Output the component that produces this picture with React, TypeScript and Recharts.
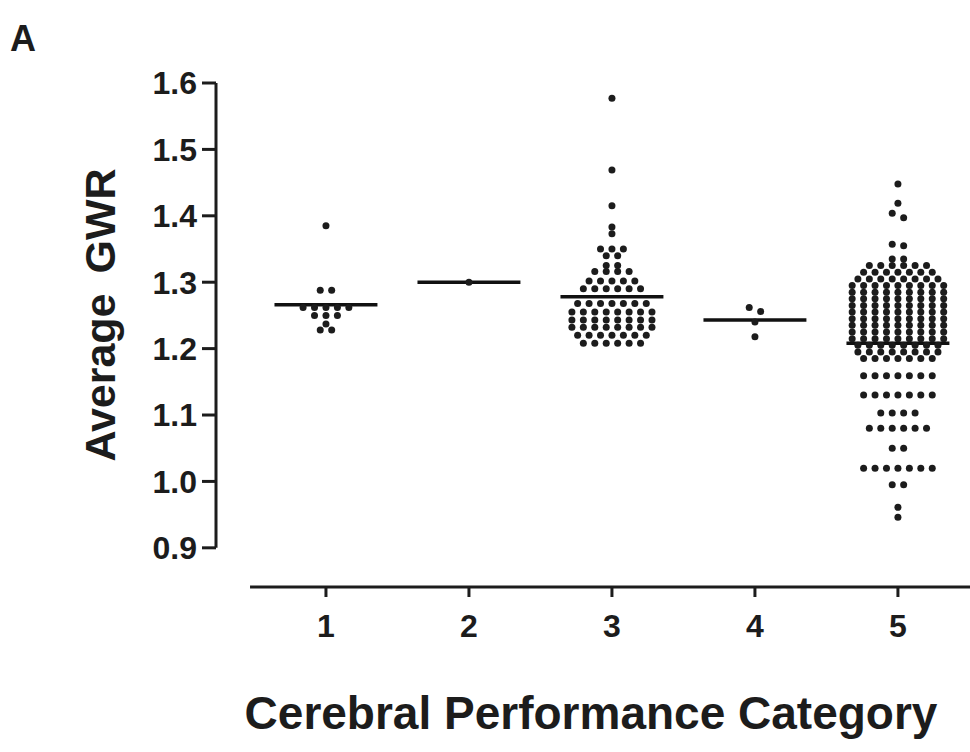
import { ReferenceLine, Scatter, ScatterChart, XAxis, YAxis } from "recharts";

// Cerebral Performance Category (CPC) groups and per-patient average GWR
const CATEGORIES = [1, 2, 3, 4, 5];
const CATEGORY_LABELS = ["1", "2", "3", "4", "5"];

const CPC1_GWR = [1.385, 1.288, 1.288, 1.262, 1.262, 1.262, 1.262, 1.262, 1.25, 1.25, 1.25, 1.237, 1.228, 1.228];
const CPC2_GWR = [1.3];
const CPC3_GWR = [
  1.577, 1.469, 1.415, 1.383, 1.373,
  1.35, 1.35, 1.35, 1.34, 1.34, 1.325, 1.325, 1.316, 1.316, 1.316, 1.316,
  1.302, 1.302, 1.302, 1.302, 1.302, 1.29, 1.29, 1.29, 1.29, 1.29, 1.29,
  1.268, 1.268, 1.268, 1.268, 1.268, 1.268, 1.268,
  1.255, 1.255, 1.255, 1.255, 1.255, 1.255, 1.255, 1.255,
  1.243, 1.243, 1.243, 1.243, 1.243, 1.243, 1.243, 1.243,
  1.232, 1.232, 1.232, 1.232, 1.232, 1.232, 1.232, 1.232,
  1.22, 1.22, 1.22, 1.22, 1.22, 1.22, 1.22,
  1.208, 1.208, 1.208, 1.208, 1.208, 1.208,
];
const CPC4_GWR = [1.262, 1.256, 1.24, 1.218];
const CPC5_GWR = [
  1.448, 1.419, 1.404, 1.397, 1.357, 1.355, 1.335, 1.335,
  1.325, 1.325, 1.325, 1.325, 1.325, 1.325,
  1.315, 1.315, 1.315, 1.315, 1.315, 1.315, 1.315,
  1.305, 1.305, 1.305, 1.305, 1.305, 1.305, 1.305, 1.305,
  1.295, 1.295, 1.295, 1.295, 1.295, 1.295, 1.295, 1.295, 1.295,
  1.285, 1.285, 1.285, 1.285, 1.285, 1.285, 1.285, 1.285, 1.285,
  1.275, 1.275, 1.275, 1.275, 1.275, 1.275, 1.275, 1.275, 1.275,
  1.265, 1.265, 1.265, 1.265, 1.265, 1.265, 1.265, 1.265, 1.265,
  1.255, 1.255, 1.255, 1.255, 1.255, 1.255, 1.255, 1.255, 1.255,
  1.245, 1.245, 1.245, 1.245, 1.245, 1.245, 1.245, 1.245, 1.245,
  1.235, 1.235, 1.235, 1.235, 1.235, 1.235, 1.235, 1.235, 1.235,
  1.225, 1.225, 1.225, 1.225, 1.225, 1.225, 1.225, 1.225, 1.225,
  1.215, 1.215, 1.215, 1.215, 1.215, 1.215, 1.215, 1.215, 1.215,
  1.205, 1.205, 1.205, 1.205, 1.205, 1.205, 1.205, 1.205,
  1.195, 1.195, 1.195, 1.195, 1.195, 1.195, 1.195, 1.195,
  1.185, 1.185, 1.185, 1.185, 1.185, 1.185, 1.185,
  1.159, 1.159, 1.159, 1.159, 1.159, 1.159, 1.159,
  1.13, 1.13, 1.13, 1.13, 1.13, 1.13, 1.13,
  1.103, 1.103, 1.103, 1.103,
  1.08, 1.08, 1.08, 1.08, 1.08, 1.08,
  1.05, 1.05,
  1.02, 1.02, 1.02, 1.02, 1.02, 1.02, 1.02,
  0.995, 0.995, 0.961, 0.946,
];
const GROUPS = [CPC1_GWR, CPC2_GWR, CPC3_GWR, CPC4_GWR, CPC5_GWR];

// group means drawn as horizontal bars
const MEANS = [1.266, 1.3, 1.278, 1.243, 1.208];

const Y_TICKS = [0.9, 1.0, 1.1, 1.2, 1.3, 1.4, 1.5, 1.6];

// axis extents (GraphPad style: the two axes are offset and do not meet)
const X_MIN = 0.231;
const X_MAX = 5.504;
const X_AXIS_START = 0.469;
const Y_MIN = 0.841;
const Y_MAX = 1.6;

const DOT_STEP = 0.08; // horizontal spacing between dots in a row, x units
const ROW_TOL = 0.008; // values closer than this share a row
const HALF_LINE = 0.36;

const INK = "#1c1c1c";
const FONT = "'Liberation Sans', Arial, sans-serif";

// simple scatter-dot layout: dots of similar value sit side by side
function swarm(cat: number, values: number[]) {
  const sorted = [...values].sort((a, b) => b - a);
  const rows: number[][] = [];
  for (const v of sorted) {
    const row = rows[rows.length - 1];
    if (row && row[0] - v < ROW_TOL) row.push(v);
    else rows.push([v]);
  }
  return rows.flatMap((row) => row.map((v, i) => ({ x: cat + (i - (row.length - 1) / 2) * DOT_STEP, y: v })));
}

const points = CATEGORIES.flatMap((c, i) => swarm(c, GROUPS[i]));

function Dot({ cx, cy }: { cx?: number; cy?: number }) {
  return <circle cx={cx} cy={cy} r={3.5} fill={INK} />;
}

const tickStyle = { fontSize: 32, fontWeight: 700, fill: INK, fontFamily: FONT };

export default function App() {
  return (
    <div style={{ position: "absolute", left: 0, top: 0, width: 970, height: 752, background: "#fff" }}>
      <ScatterChart width={970} height={752} margin={{ top: 83, right: 0, bottom: 105, left: 116 }}>
        <XAxis
          type="number"
          dataKey="x"
          domain={[X_MIN, X_MAX]}
          ticks={CATEGORIES}
          tickFormatter={(v: number) => CATEGORY_LABELS[CATEGORIES.indexOf(v)] ?? ""}
          allowDataOverflow
          interval={0}
          axisLine={false}
          tickLine={{ stroke: INK, strokeWidth: 3 }}
          tickSize={10}
          tickMargin={17}
          height={60}
          tick={tickStyle}
        />
        <YAxis
          type="number"
          dataKey="y"
          domain={[Y_MIN, Y_MAX]}
          ticks={Y_TICKS}
          allowDataOverflow
          interval={0}
          axisLine={false}
          tickLine={{ stroke: INK, strokeWidth: 3 }}
          tickSize={14}
          tickMargin={5}
          width={100}
          tickFormatter={(v: number) => v.toFixed(1)}
          tick={tickStyle}
        />
        <ReferenceLine
          segment={[{ x: X_MIN, y: 0.9 }, { x: X_MIN, y: Y_MAX }]}
          stroke={INK}
          strokeWidth={3}
          ifOverflow="visible"
        />
        <ReferenceLine
          segment={[{ x: X_AXIS_START, y: Y_MIN }, { x: X_MAX, y: Y_MIN }]}
          stroke={INK}
          strokeWidth={3}
          ifOverflow="visible"
        />
        <Scatter data={points} shape={Dot} isAnimationActive={false} />
        {CATEGORIES.map((c, i) => (
          <ReferenceLine
            key={c}
            segment={[{ x: c - HALF_LINE, y: MEANS[i] }, { x: c + HALF_LINE, y: MEANS[i] }]}
            stroke="#111"
            strokeWidth={3.5}
            ifOverflow="visible"
          />
        ))}
      </ScatterChart>
      <div
        style={{
          position: "absolute",
          left: 23,
          top: 39,
          transform: "translate(-50%, -50%)",
          fontFamily: FONT,
          fontWeight: 700,
          fontSize: 36,
          lineHeight: 1,
          color: INK,
        }}
      >
        A
      </div>
      <div
        style={{
          position: "absolute",
          left: 100,
          top: 315,
          transform: "translate(-50%, -50%) rotate(-90deg)",
          whiteSpace: "nowrap",
          fontFamily: FONT,
          fontWeight: 700,
          fontSize: 43,
          wordSpacing: 8,
          lineHeight: 1,
          color: INK,
        }}
      >
        Average GWR
      </div>
      <div
        style={{
          position: "absolute",
          left: 591,
          top: 713,
          transform: "translate(-50%, -50%)",
          whiteSpace: "nowrap",
          fontFamily: FONT,
          fontWeight: 700,
          fontSize: 46,
          lineHeight: 1,
          color: INK,
        }}
      >
        Cerebral Performance Category
      </div>
    </div>
  );
}
